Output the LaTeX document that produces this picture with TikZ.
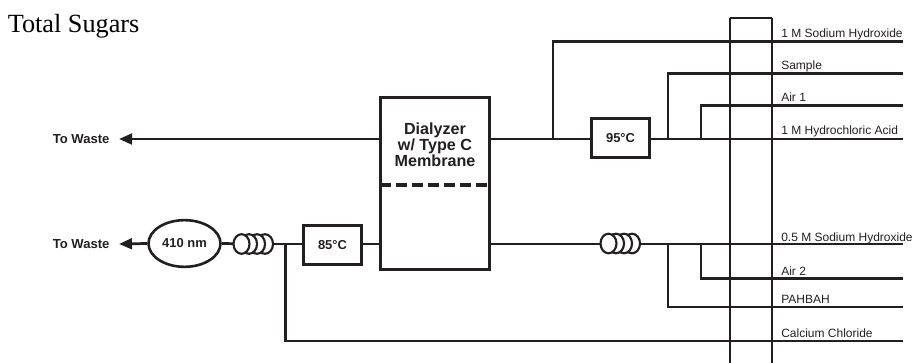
\documentclass[tikz,border=0pt]{standalone}
\usepackage{fontspec}
\setmainfont{Liberation Sans}
\newfontfamily\titlefont{Liberation Serif}
\usetikzlibrary{arrows.meta,shapes.geometric}
\definecolor{ink}{HTML}{231F20}
\tikzset{
  x=0.75pt,y=-0.75pt,
  line/.style={draw=ink,line width=2.05pt},
  flow/.style={line,-{Triangle[length=9.75pt,width=8pt]}},
  boxnode/.style={draw=ink,line width=2.1pt,fill=white,inner sep=0pt,font=\fontsize{9.7}{12}\selectfont\bfseries,text=ink},
  oven/.style={boxnode,minimum width=43.5pt,minimum height=29pt},
  waste/.style={font=\fontsize{9.8}{12}\selectfont\bfseries,text=ink,anchor=base west,inner sep=0pt},
  reagent/.style={font=\fontsize{9}{11}\selectfont,text=ink,anchor=base west,inner sep=0pt},
  coilbox/.style={minimum width=29pt,minimum height=15.5pt,inner sep=0pt},
  loop/.style={draw=ink,line width=1.6pt,fill=white},
}
\newcommand{\coilat}[1]{%
  \foreach \dx in {11.5,3.5,-4.5,-12}{
    \draw[loop] ([xshift=\dx*0.75pt]#1.center) ellipse [x radius=8,y radius=9.8];
  }%
}
\begin{document}
\begin{tikzpicture}
\useasboundingbox (0,0) rectangle (913,363);

% title
\node[font=\fontsize{19.7}{22}\selectfont\titlefont,text=black,anchor=base west,inner sep=0pt] (title) at (7.5,33) {Total Sugars};

% named end points
\coordinate (r1) at (903,41.5);
\coordinate (r2) at (903,73.5);
\coordinate (r3) at (903,105.5);
\coordinate (r4) at (903,139);
\coordinate (r5) at (903,244);
\coordinate (r6) at (903,278.5);
\coordinate (r7) at (903,307);
\coordinate (r8) at (903,341);
\coordinate (j1) at (553,139);
\coordinate (j2) at (668,139);
\coordinate (j3) at (701,139);
\coordinate (j6) at (701,244);
\coordinate (j7) at (668,244);
\coordinate (j8) at (285.5,244);
\coordinate (w1) at (119,139);
\coordinate (w2) at (119,244);
\coordinate (cTopL) at (730,18);
\coordinate (cTopR) at (772,18);
\coordinate (cBotL) at (730,363);
\coordinate (cBotR) at (772,363);

% components
\node[boxnode,minimum width=82pt,minimum height=129pt] (dial) at (435,183.5) {};
\node[oven] (t95) at (620.5,138) {95°C};
\node[oven] (t85) at (332.5,245) {85°C};
\node[draw=ink,line width=1.95pt,fill=white,ellipse,minimum width=54pt,minimum height=35pt,inner sep=0pt,font=\fontsize{9.7}{12}\selectfont\bfseries,text=ink] (det) at (184.5,243.5) {410 nm};
\node[coilbox] (coilA) at (253.5,244) {};
\node[coilbox] (coilB) at (620.5,243.5) {};

% connectors
\draw[flow] (dial.west |- w1) -- (w1);
\draw[line] (dial.east |- j1) -- (t95.west |- j1);
\draw[line] (t95.east |- r4) -- (r4);
\draw[line] (j1) -- (j1 |- r1) -- (r1);
\draw[line] (j2) -- (j2 |- r2) -- (r2);
\draw[line] (j3) -- (j3 |- r3) -- (r3);
\draw[line] (dial.east |- r5) -- (r5);
\draw[line] (j6) -- (j6 |- r6) -- (r6);
\draw[line] (j7) -- (j7 |- r7) -- (r7);
\draw[line] (j8) -- (j8 |- r8) -- (r8);
\draw[line] (dial.west |- j8) -- (t85.east |- j8);
\draw[line] (t85.west |- j8) -- (coilA.center |- j8);
\draw[line] (coilA.center |- j8) -- (det.east);
\draw[flow] (det.west) -- (w2);
\draw[line] (cTopL) -- (cBotL);
\draw[line] (cTopR) -- (cBotR);
\draw[line] (cTopL) -- (cTopR);

\coilat{coilA}
\coilat{coilB}

% dialyzer inner
\draw[draw=ink,line width=2.5pt,dash pattern=on 8.25pt off 3.75pt,shorten >=1.5pt,shorten <=1pt] (dial.west |- 0,185) -- (dial.east |- 0,185);
\node[font=\fontsize{12.1}{12}\selectfont\bfseries,text=ink,align=center,inner sep=0pt,anchor=base] (dlabel) at (435,167) {Dialyzer\\w/ Type C\\Membrane};

% labels
\node[waste] (lw1) at (52.5,143.5) {To Waste};
\node[waste] (lw2) at (52.5,248.5) {To Waste};
\node[reagent] (l1) at (781,37.5) {1 M Sodium Hydroxide};
\node[reagent] (l2) at (781,69.5) {Sample};
\node[reagent] (l3) at (781,102) {Air 1};
\node[reagent] (l4) at (781,135) {1 M Hydrochloric Acid};
\node[reagent] (l5) at (781,242) {0.5 M Sodium Hydroxide};
\node[reagent] (l6) at (781,275) {Air 2};
\node[reagent] (l7) at (781,303.5) {PAHBAH};
\node[reagent] (l8) at (781,337) {Calcium Chloride};
\end{tikzpicture}
\end{document}
